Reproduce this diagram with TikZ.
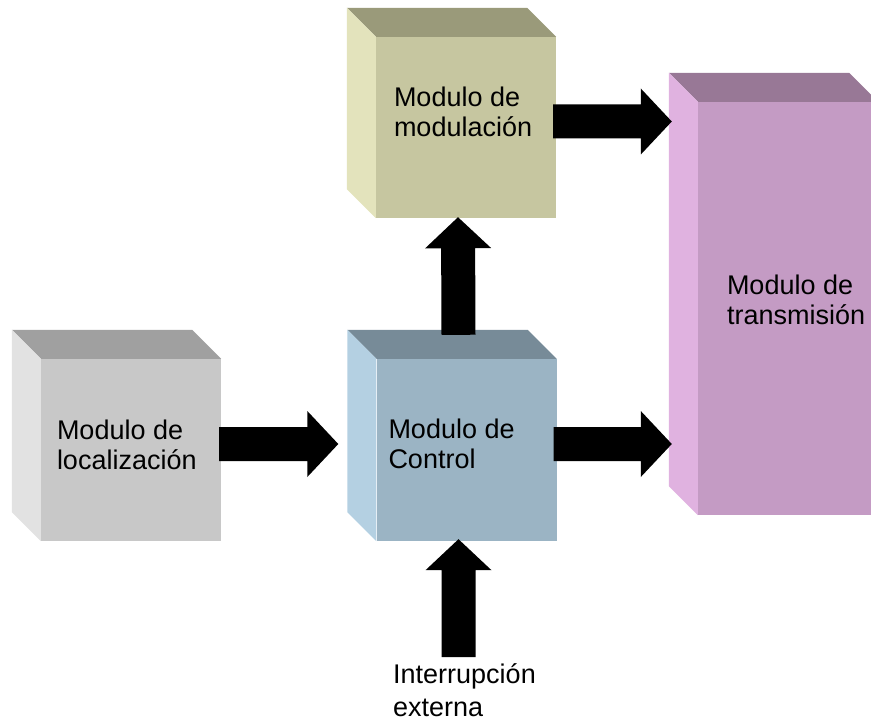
\documentclass[tikz,border=0pt]{standalone}
\usepackage{fontspec}
\setmainfont{Liberation Sans}
\usetikzlibrary{calc, positioning}
\definecolor{locFront}{HTML}{C8C8C8}
\definecolor{locTop}{HTML}{A0A0A0}
\definecolor{locSide}{HTML}{E2E2E2}
\definecolor{ctrlFront}{HTML}{9BB4C4}
\definecolor{ctrlTop}{HTML}{778B98}
\definecolor{ctrlSide}{HTML}{B4D0E2}
\definecolor{modFront}{HTML}{C6C6A0}
\definecolor{modTop}{HTML}{9A9A7A}
\definecolor{modSide}{HTML}{E3E3BC}
\definecolor{txFront}{HTML}{C49BC4}
\definecolor{txTop}{HTML}{987896}
\definecolor{txSide}{HTML}{E0B2E0}
\tikzset{
  % front face of a block; top and left faces come from \cubefaces
  cube/.style  = {fill=#1, minimum width=180, minimum height=182, inner sep=0},
  lbl/.style   = {font=\fontsize{27}{30}\selectfont, align=left, inner sep=0, anchor=north west},
}
% top and left faces behind a front face, 29 units deep
\newcommand{\cubefaces}[3]{%
  \fill[#2] (#1.north west) -- ++(-29,-29) -- ($(#1.north east)+(-29,-29)$)
    -- (#1.north east) -- cycle;
  \fill[#3] (#1.north west) -- ++(-29,-29) -- ($(#1.south west)+(-29,-29)$)
    -- (#1.south west) -- cycle;}
% thick block arrow from #1 to #2
\newcommand{\fatarrow}[2]{%
  \fill[black] let \p1=(#1), \p2=(#2),
      \n1={veclen(\x2-\x1,\y2-\y1)}, \n2={atan2(\y2-\y1,\x2-\x1)} in
    [shift={(\p1)}, rotate=\n2]
    (0pt,-17pt) -- (\n1-31pt,-17pt) -- (\n1-31pt,-33pt) -- (\n1+0pt,0pt)
    -- (\n1-31pt,33pt) -- (\n1-31pt,17pt) -- (0pt,17pt) -- cycle;}

\begin{document}
\begin{tikzpicture}[x=1pt,y=-1pt]
  \useasboundingbox (0,0) rectangle (871,722);
  \clip (0,0) rectangle (871,722);
  % --- blocks -------------------------------------------------------------
  \node[cube=locFront]  (loc)  at (131,450) {};
  \node[cube=ctrlFront] (ctrl) at (466.5,450) {};
  \node[cube=modFront, minimum height=181] (mod) at (466,127.5) {};
  \node[cube=txFront, minimum height=413] (tx) at (788,308.5) {};
  \cubefaces{loc}{locTop}{locSide}
  \cubefaces{ctrl}{ctrlTop}{ctrlSide}
  \cubefaces{mod}{modTop}{modSide}
  \cubefaces{tx}{txTop}{txSide}
  % --- labels -------------------------------------------------------------
  \node[lbl] (locTxt)  at ($(loc.north west)+(16,61)$)  {Modulo de\\localización};
  \node[lbl] (ctrlTxt) at ($(ctrl.north west)+(12,60)$) {Modulo de\\Control};
  \node[lbl] (modTxt)  at ($(mod.north west)+(18,50)$)  {Modulo de\\modulación};
  \node[lbl] (txTxt)   at ($(tx.north west)+(29,173)$)  {Modulo de\\transmisión};
  \node[lbl, font=\fontsize{27}{33}\selectfont] (irq) at (393,663)
    {Interrupción\\externa};
  % --- arrows -------------------------------------------------------------
  \coordinate (modOut)  at ($(mod.east)+(-3,-6)$);
  \coordinate (ctrlOut) at ($(ctrl.east)+(-3,-6)$);
  \fatarrow{$(loc.east)+(-2,-6)$}{$(ctrl.west)+(-38,-6)$}
  \fatarrow{$(ctrl.north)+(-8,-24)$}{$(mod.south)+(-8,-1)$}
  \fatarrow{modOut}{$(modOut -| tx.west)+(-26,0)$}
  \fatarrow{ctrlOut}{$(ctrlOut -| tx.west)+(-26,0)$}
  \fatarrow{$(irq.north -| ctrl.south)+(-8,-6)$}{$(ctrl.south)+(-8,-2)$}
\end{tikzpicture}
\end{document}
